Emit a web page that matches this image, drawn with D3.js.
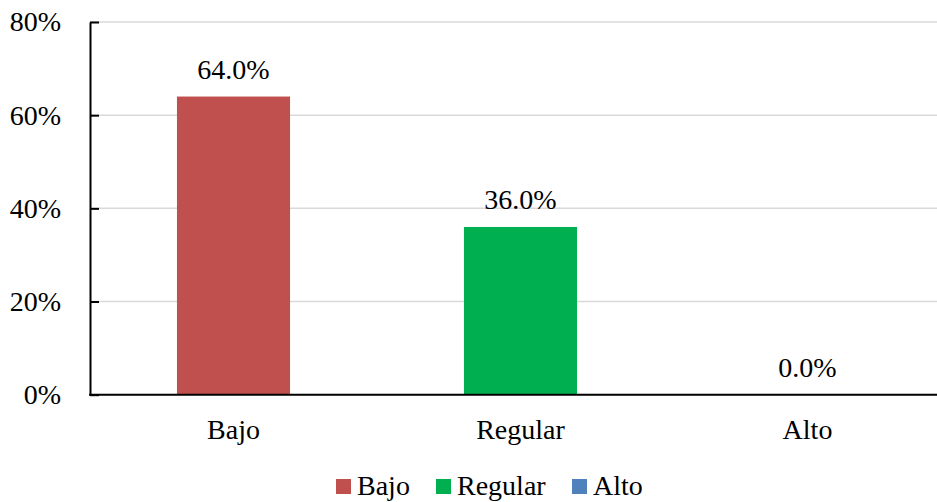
<!DOCTYPE html>
<html><head><meta charset="utf-8">
<script src="https://cdn.jsdelivr.net/npm/d3@7"></script>
<style>body{margin:0;background:#fff}svg{display:block}</style>
</head><body>
<svg id="c" width="937" height="502"></svg>
<script>
const categories = ["Bajo", "Regular", "Alto"];
const values = [0.64, 0.36, 0.0];
const colors = ["#C0504D", "#00B050", "#4F81BD"];
const yTicks = [0, 0.2, 0.4, 0.6, 0.8];

const svg = d3.select("#c");
const fs = "28px";
const ff = '"Liberation Serif"';
const x = d3.scaleBand().domain(categories).range([90, 951]).paddingInner(0.606).paddingOuter(0.303);
const y = d3.scaleLinear().domain([0, 0.8]).range([394.7, 22]);

// gridlines
svg.append("g").selectAll("line").data(yTicks.filter(d => d > 0)).join("line")
  .attr("x1", 90).attr("x2", 937).attr("y1", d => y(d)).attr("y2", d => y(d))
  .attr("stroke", "#d9d9d9").attr("stroke-width", 1.5);

// bars
svg.append("g").selectAll("rect").data(categories).join("rect")
  .attr("x", d => x(d)).attr("width", x.bandwidth())
  .attr("y", (d, i) => y(values[i])).attr("height", (d, i) => y(0) - y(values[i]))
  .attr("fill", (d, i) => colors[i]);

// value labels
svg.append("g").selectAll("text").data(categories).join("text")
  .attr("x", d => x(d) + x.bandwidth() / 2).attr("y", (d, i) => y(values[i]) - 18)
  .attr("text-anchor", "middle")
  .style("font-family", ff).style("font-size", fs).style("fill", "#000")
  .text((d, i) => (values[i] * 100).toFixed(1) + "%");

// y axis
const yAxis = d3.axisLeft(y).tickValues(yTicks).tickFormat(d3.format(".0%")).tickSizeInner(-9).tickSizeOuter(0).tickPadding(29);
const ya = svg.append("g").attr("transform", "translate(90,0)").call(yAxis);
ya.select(".domain").attr("stroke", "#000").attr("stroke-width", 2);
ya.selectAll(".tick line").attr("stroke", "#000").attr("stroke-width", 2);
ya.selectAll("text").style("font-size", fs).style("font-family", ff).style("fill", "#000");

// x axis
const xAxis = d3.axisBottom(x).tickSize(0).tickPadding(24);
const xa = svg.append("g").attr("transform", `translate(0,${y(0)})`).call(xAxis);
xa.select(".domain").remove();
svg.append("line").attr("x1", 89).attr("x2", 937).attr("y1", y(0)).attr("y2", y(0)).attr("stroke", "#000").attr("stroke-width", 2);
xa.selectAll("text").style("font-size", fs).style("font-family", ff).style("fill", "#000");

// legend
const legendX = [336, 436, 572];
const lg = svg.append("g").selectAll("g").data(categories).join("g")
  .attr("transform", (d, i) => `translate(${legendX[i]},479)`);
lg.append("rect").attr("width", 15).attr("height", 15).attr("fill", (d, i) => colors[i]);
lg.append("text").attr("x", 21).attr("y", 15.5)
  .style("font-family", ff).style("font-size", fs).style("fill", "#000").text(d => d);
</script>
</body></html>
